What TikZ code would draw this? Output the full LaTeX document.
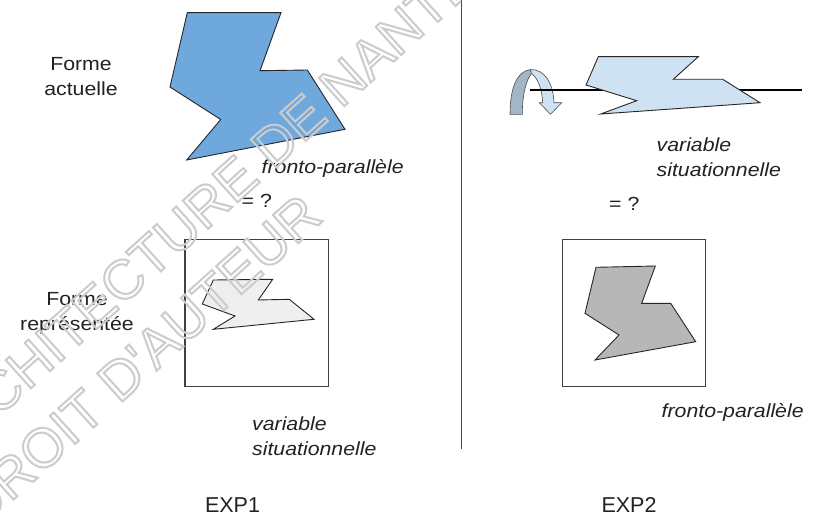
\documentclass[tikz,border=0pt]{standalone}
\usepackage{fontspec}
\setmainfont[FakeStretch=1.12]{Liberation Sans}
\newfontfamily\expfont{Liberation Sans}
\newfontfamily\wmfont{Liberation Sans}
\definecolor{shapeblue}{HTML}{6FA8DC}
\definecolor{paleblue}{HTML}{CFE2F3}
\definecolor{palegray}{HTML}{EFEFEF}
\definecolor{midgray}{HTML}{B7B7B7}
\definecolor{arrowdark}{HTML}{A3B6C9}
\definecolor{txt}{HTML}{222222}
\newcommand\wmstroke[1]{\special{pdf:literal direct 1 Tr 2.0 w 0.80 G}#1\special{pdf:literal direct 0 Tr}}
\tikzset{
  outl/.style={draw=black!85, line width=0.9pt, line join=miter},
  framebox/.style={draw=black!75, line width=1.2pt, inner sep=0pt, outer sep=0pt, anchor=north west},
  lbl/.style={font=\fontsize{19}{24.5}\selectfont, inner sep=0pt, text=txt},
  ital/.style={font=\fontsize{19}{24.5}\selectfont\itshape, inner sep=0pt, text=txt},
  expl/.style={font=\expfont\fontsize{21.5}{26}\selectfont, inner sep=0pt, text=txt},
  wmark/.style={font=\wmfont\fontsize{55}{64}\selectfont, inner sep=0pt, rotate=42, anchor=base west}
}
\begin{document}
\begin{tikzpicture}[x=1pt,y=-1pt]
\useasboundingbox (0,0) rectangle (814,519);
\fill[white] (0,0) rectangle (814,519);

% divider
\draw[black!70, line width=1.4pt] (461.7,0) coordinate (divtop) -- (461.7,449) coordinate (divbot);

% ---------- EXP1 ----------
\draw[outl, fill=shapeblue] (187.3,12.7) -- (281,12.7) -- (260,70.7) -- (307.3,70) -- (345,129.3)
  -- (186.7,160) -- (220.7,119.5) -- (170,87) -- cycle;
\node[lbl, align=center] (actuelle) at (81,76.5) {Forme\\actuelle};
\node[ital, anchor=base west] (fpL) at (261.5,173.3) {fronto-parallèle};
\node[lbl, anchor=base west] (eqL) at (241.5,207) {= ?};

\node[framebox, minimum width=143.3pt, minimum height=147.4pt] (boxL) at (185,239.3) {};
\draw[outl, fill=palegray] (213.3,280) -- (272.7,279.3) -- (258.3,300) -- (289.3,299.3) -- (314,319.3)
  -- (213.3,329.3) -- (235,316) -- (202.3,304) -- cycle;
\node[lbl, align=center] (representee) at (77,313.6) {Forme\\représentée};
\node[ital, align=left, anchor=north west] (vsL) at (252,417) {variable\\situationnelle};
\node[expl] (exp1) at (232.5,505) {EXP1};

% ---------- EXP2 ----------
% curved rotation arrow
\draw[draw=black!70, line width=0.6pt, fill=arrowdark] (510,114.3) .. controls (510,88) and (517,71) .. (530.5,69.6)
  -- (531.5,73.5) .. controls (526,80) and (522.3,95) .. (522.3,114.3) -- cycle;
\draw[draw=black!70, line width=0.6pt, fill=paleblue] (530.5,69.6) .. controls (544,69) and (553,82) .. (554,102.7)
  -- (561.7,102.7) -- (550.5,114.3) -- (539.3,102.7) -- (542.7,102.7)
  .. controls (542,88) and (537,77) .. (531.5,73.5) -- cycle;
% axis
\draw[black, line width=2.6pt] (530,90) coordinate (axL) -- (802,90) coordinate (axR);
\draw[outl, fill=paleblue] (598.3,56.7) -- (698.3,56.7) -- (673.3,79.3) -- (722.7,79.3) -- (760,102.7)
  -- (600.7,114) -- (636.7,100.7) -- (586,85) -- cycle;
\node[ital, align=left, anchor=north west] (vsR) at (656.5,138) {variable\\situationnelle};
\node[lbl, anchor=base west] (eqR) at (609,210) {= ?};

\node[framebox, minimum width=143.4pt, minimum height=147.4pt] (boxR) at (562.3,239.3) {};
\draw[outl, fill=midgray] (596,267.3) -- (655.3,266) -- (641.7,303.3) -- (670.7,303.3) -- (695.7,341.7)
  -- (595,360) -- (619,335) -- (585,313.3) -- cycle;
\node[ital, anchor=base west] (fpR) at (661.5,417.3) {fronto-parallèle};
\node[expl] (exp2) at (629,505) {EXP2};

% ---------- watermark ----------
\begin{scope}
\clip (0,0) rectangle (461,519);
\node[wmark] (wm1) at (-2,418) {\wmstroke{CHITECTURE DE NANTES}};
\node[wmark] (wm2) at (-19.5,529.3) {\wmstroke{DROIT D'AUTEUR}};
\end{scope}
\end{tikzpicture}
\end{document}
